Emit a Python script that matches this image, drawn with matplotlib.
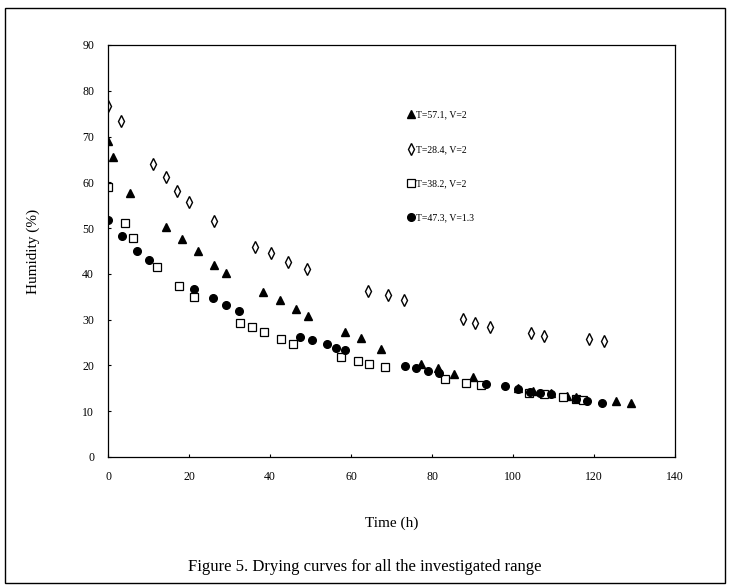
import matplotlib.pyplot as plt
from matplotlib.patches import Rectangle

plt.rcParams['font.family'] = ['Liberation Serif', 'DejaVu Serif']

# T=57.1, V=2 (filled triangles)
t_571 = [0, 1.2, 5.3, 14.2, 18.3, 22.1, 26.2, 29.1, 38.2, 42.5, 46.4, 49.3, 58.5, 62.5, 67.4,
         77.2, 81.4, 85.3, 90.2, 101.3, 104.8, 109.4, 113.3, 115.5, 125.4, 129.1]
h_571 = [69.0, 65.5, 57.6, 50.3, 47.6, 45.0, 41.9, 40.2, 36.1, 34.3, 32.3, 30.9, 27.4, 26.0, 23.5,
         20.4, 19.4, 18.1, 17.5, 15.1, 14.5, 14.0, 13.4, 13.2, 12.2, 11.7]

# T=28.4, V=2 (open diamonds)
t_284 = [0, 3.1, 11.0, 14.2, 17.1, 20.1, 26.2, 36.3, 40.2, 44.4, 49.2, 64.1, 69.2, 73.1,
         87.6, 90.5, 94.3, 104.4, 107.5, 118.6, 122.5]
h_284 = [76.6, 73.4, 64.0, 61.2, 58.1, 55.8, 51.6, 45.8, 44.6, 42.5, 41.0, 36.3, 35.4, 34.3,
         30.2, 29.3, 28.4, 27.1, 26.4, 25.8, 25.3]

# T=38.2, V=2 (open squares)
t_382 = [0, 4.2, 6.1, 12.2, 17.4, 21.3, 32.6, 35.5, 38.5, 42.6, 45.6, 57.5, 61.6, 64.5, 68.4,
         83.2, 88.4, 92.0, 104.0, 107.5, 112.2, 115.5, 117.2]
h_382 = [59.0, 51.2, 47.8, 41.4, 37.4, 34.9, 29.2, 28.3, 27.4, 25.8, 24.7, 21.8, 21.0, 20.4, 19.7,
         17.0, 16.2, 15.7, 14.0, 13.8, 13.2, 12.6, 12.4]

# T=47.3, V=1.3 (filled circles)
t_473 = [0, 3.5, 7.2, 10.1, 21.1, 25.8, 29.1, 32.4, 47.4, 50.3, 54.0, 56.3, 58.4, 73.2, 76.0,
         78.9, 81.6, 93.3, 98.0, 101.2, 104.2, 106.7, 109.4, 115.5, 118.2, 122.0]
h_473 = [51.7, 48.2, 45.1, 43.0, 36.7, 34.8, 33.3, 31.9, 26.3, 25.5, 24.6, 23.9, 23.4, 19.9, 19.4,
         18.8, 18.3, 15.9, 15.4, 14.9, 14.3, 13.9, 13.7, 12.6, 12.3, 11.9]

fig = plt.figure(figsize=(7.3, 5.88), dpi=100)
ax = fig.add_axes([0.148, 0.2228, 0.777, 0.7007])

ax.plot(t_571, h_571, '^', color='black', markersize=6, linestyle='none', label='T=57.1, V=2')
ax.plot(t_284, h_284, 'd', color='black', markerfacecolor='white', markersize=5.8,
        markeredgewidth=1.0, linestyle='none', label='T=28.4, V=2')
ax.plot(t_382, h_382, 's', color='black', markerfacecolor='white', markersize=5.5,
        markeredgewidth=0.9, linestyle='none', label='T=38.2, V=2')
ax.plot(t_473, h_473, 'o', color='black', markersize=5.5, linestyle='none', label='T=47.3, V=1.3')

ax.set_xlim(0, 140)
ax.set_ylim(0, 90)
ax.set_xticks(range(0, 141, 20))
ax.set_yticks(range(0, 91, 10))
ax.tick_params(direction='in', length=2, labelsize=8.5, pad=10)
for s in ax.spines.values():
    s.set_linewidth(0.9)

ax.set_xlabel('Time (h)', fontsize=11, labelpad=24)
ax.set_ylabel('Humidity (%)', fontsize=11, labelpad=30)

leg = ax.legend(loc='upper left', bbox_to_anchor=(0.518, 0.85), frameon=False, fontsize=7,
                labelspacing=2.6, handletextpad=0.1, handlelength=1.0, borderaxespad=0)

fig.text(0.5, 0.035, 'Figure 5. Drying curves for all the investigated range',
         ha='center', va='center', fontsize=12)

# outer frame around the whole figure
fig.patches.append(Rectangle((0.007, 0.008), 0.986, 0.978, transform=fig.transFigure,
                             fill=False, edgecolor='black', linewidth=1.0))

fig.savefig('out.png', dpi=100)
